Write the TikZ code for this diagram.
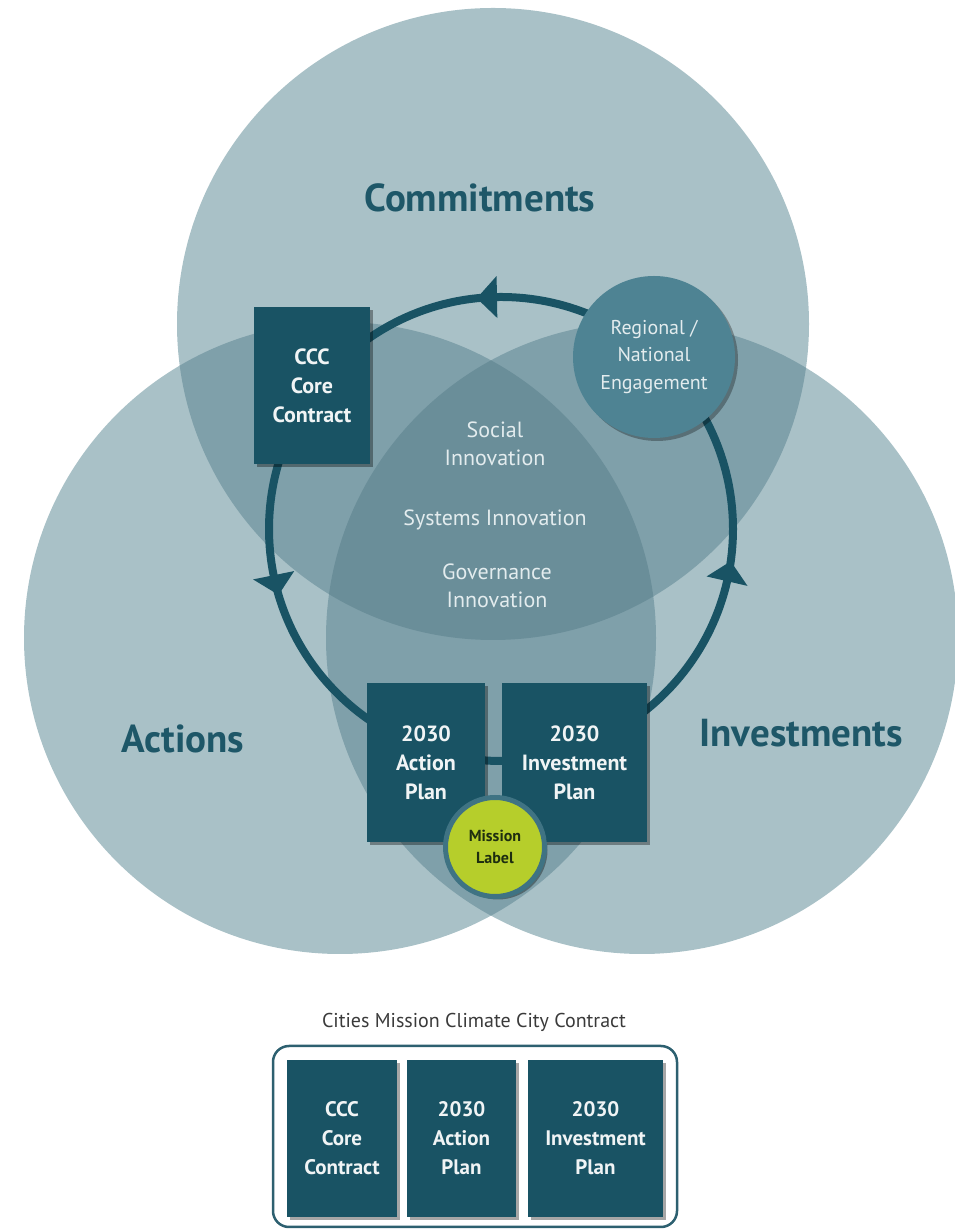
\documentclass[tikz,border=0pt]{standalone}
\usepackage{fontspec}
\setmainfont{PT Sans}
\usetikzlibrary{shadows}
\definecolor{vbase}{HTML}{A9C1C7}
\definecolor{vdouble}{HTML}{7FA0AA}
\definecolor{vtriple}{HTML}{6A8E99}
\definecolor{boxcol}{HTML}{195364}
\definecolor{boxtext}{HTML}{F0F4F5}
\definecolor{innertext}{HTML}{E3ECEE}
\definecolor{titlecol}{HTML}{1E5768}
\definecolor{regcol}{HTML}{4E8393}
\definecolor{misscol}{HTML}{B6CE2B}
\definecolor{missborder}{HTML}{3F7383}
\definecolor{misstext}{HTML}{1E2E10}
\definecolor{captioncol}{HTML}{3A3A3A}
\definecolor{framecol}{HTML}{2D6070}
\begin{document}
\begin{tikzpicture}[x=1pt,y=1pt,
  title/.style={font=\fontsize{39}{47}\selectfont\bfseries, text=titlecol, inner sep=0},
  darkbox/.style={fill=boxcol, text=boxtext, align=center, inner sep=0,
    font=\fontsize{22}{29}\selectfont\bfseries,
    drop shadow={shadow xshift=3pt, shadow yshift=-3pt, opacity=0.35, fill=black}},
  smallbox/.style={darkbox, font=\fontsize{21}{29}\selectfont\bfseries},
  innerlabel/.style={text=innertext, align=center, inner sep=0, font=\fontsize{22}{28}\selectfont},
  ringline/.style={draw=boxcol, line width=8},
  ringtip/.style={fill=boxcol},
  regional/.style={circle, fill=regcol, text=innertext, align=center, inner sep=0,
    minimum size=162, font=\fontsize{20}{27.5}\selectfont,
    drop shadow={shadow xshift=3pt, shadow yshift=-3pt, opacity=0.3, fill=black}},
  mission/.style={circle, fill=misscol, draw=missborder, line width=5, text=misstext,
    align=center, inner sep=0, minimum size=99, font=\fontsize{16}{22}\selectfont\bfseries,
    drop shadow={shadow xshift=3pt, shadow yshift=-3pt, opacity=0.35, fill=black}},
  framebox/.style={draw=framecol, line width=2.5, rounded corners=16, inner sep=0}
]
\useasboundingbox (0,0) rectangle (954,1229);
% Venn circles
\coordinate (ctop) at (493,905);
\coordinate (cleft) at (340,591);
\coordinate (cright) at (642,591);
\fill[vbase] (ctop) circle (316);
\fill[vbase] (cleft) circle (316);
\fill[vbase] (cright) circle (316);
\begin{scope}
  \clip (ctop) circle (316);
  \fill[vdouble] (cleft) circle (316);
  \fill[vdouble] (cright) circle (316);
\end{scope}
\begin{scope}
  \clip (cleft) circle (316);
  \fill[vdouble] (cright) circle (316);
\end{scope}
\begin{scope}
  \clip (ctop) circle (316);
  \clip (cleft) circle (316);
  \fill[vtriple] (cright) circle (316);
\end{scope}
% titles
\node[title] (commit) at (480,1031) {Commitments};
\node[title] (actions) at (183,490) {Actions};
\node[title] (invest) at (801,496) {Investments};
% cycle ring
\coordinate (ringc) at (501,700);
\draw[ringline] (ringc) circle (232);
\fill[ringtip, shift={(ringc)}] (91:211) -- (91:253) -- (96:232) -- cycle;
\fill[ringtip, shift={(ringc)}] (191.5:211) -- (191.5:253) -- (196.5:232) -- cycle;
\fill[ringtip, shift={(ringc)}] (347:211) -- (347:253) -- (352:232) -- cycle;
% boxes on the ring
\node[darkbox, minimum width=116, minimum height=157] (ccc) at (312,843.5) {CCC\\Core\\Contract};
\node[darkbox, minimum width=118, minimum height=159] (action) at (426,466.5) {2030\\Action\\Plan};
\node[darkbox, minimum width=145, minimum height=159] (investplan) at (574.5,466.5) {2030\\Investment\\Plan};
\node[regional] (regnat) at (654,872) {Regional /\\National\\Engagement};
\node[mission] (label) at (495,382) {Mission\\Label};
% centre texts
\node[innerlabel] (social) at (495,785) {Social\\Innovation};
\node[innerlabel] (systems) at (495,709) {Systems Innovation};
\node[innerlabel] (govern) at (497,643) {Governance\\Innovation};
% bottom legend
\node[text=captioncol, inner sep=0, font=\fontsize{20}{24}\selectfont] (caption) at (474,207) {Cities Mission Climate City Contract};
\node[framebox, minimum width=404, minimum height=181] (frame) at (475,92.5) {};
\node[smallbox, minimum width=110, minimum height=157] (b1) at (342,90.5) {CCC\\Core\\Contract};
\node[smallbox, minimum width=109, minimum height=157] (b2) at (461.5,90.5) {2030\\Action\\Plan};
\node[smallbox, minimum width=135, minimum height=157] (b3) at (595.5,90.5) {2030\\Investment\\Plan};
\end{tikzpicture}
\end{document}
